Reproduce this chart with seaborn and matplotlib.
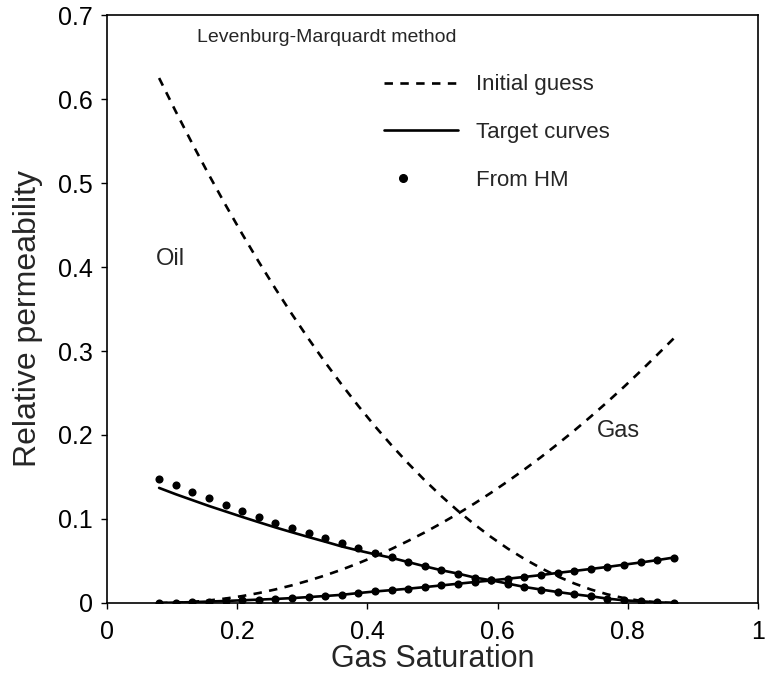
import matplotlib
matplotlib.use("Agg")
import matplotlib.pyplot as plt
from matplotlib.lines import Line2D
from matplotlib.legend_handler import HandlerLine2D
from matplotlib.ticker import FuncFormatter
import pandas as pd
import seaborn as sns

# Gas saturation grid (32 grid-block values)
gas_saturation = [0.0800, 0.1055, 0.1310, 0.1565, 0.1820, 0.2075, 0.2330, 0.2585,
                  0.2840, 0.3095, 0.3350, 0.3605, 0.3860, 0.4115, 0.4370, 0.4625,
                  0.4880, 0.5135, 0.5390, 0.5645, 0.5900, 0.6155, 0.6410, 0.6665,
                  0.6920, 0.7175, 0.7430, 0.7685, 0.7940, 0.8195, 0.8450, 0.8705]

# Initial guess curves
oil_initial = [0.6250, 0.5853, 0.5469, 0.5098, 0.4740, 0.4395, 0.4063, 0.3744,
               0.3439, 0.3146, 0.2866, 0.2600, 0.2346, 0.2105, 0.1878, 0.1663,
               0.1461, 0.1273, 0.1097, 0.0935, 0.0785, 0.0648, 0.0525, 0.0415,
               0.0317, 0.0233, 0.0161, 0.0103, 0.0058, 0.0026, 0.0006, 0.0000]
gas_initial = [0.0000, 0.0003, 0.0013, 0.0030, 0.0053, 0.0082, 0.0118, 0.0161,
               0.0210, 0.0266, 0.0328, 0.0397, 0.0473, 0.0555, 0.0643, 0.0739,
               0.0840, 0.0949, 0.1063, 0.1185, 0.1313, 0.1448, 0.1589, 0.1736,
               0.1891, 0.2051, 0.2219, 0.2393, 0.2573, 0.2760, 0.2954, 0.3150]

# Target curves
oil_target = [0.1370, 0.1295, 0.1225, 0.1155, 0.1090, 0.1025, 0.0962, 0.0900,
              0.0842, 0.0785, 0.0730, 0.0673, 0.0625, 0.0580, 0.0538, 0.0487,
              0.0437, 0.0390, 0.0350, 0.0303, 0.0270, 0.0231, 0.0191, 0.0160,
              0.0131, 0.0104, 0.0080, 0.0052, 0.0032, 0.0020, 0.0008, 0.0000]
gas_target = [0.0000, 0.0005, 0.0010, 0.0017, 0.0024, 0.0032, 0.0040, 0.0048,
              0.0058, 0.0070, 0.0083, 0.0097, 0.0118, 0.0137, 0.0153, 0.0170,
              0.0189, 0.0209, 0.0229, 0.0249, 0.0268, 0.0289, 0.0310, 0.0332,
              0.0358, 0.0381, 0.0405, 0.0429, 0.0456, 0.0482, 0.0510, 0.0541]

# Curves obtained from history matching
oil_hm = [0.1480, 0.1400, 0.1320, 0.1250, 0.1170, 0.1100, 0.1025, 0.0950,
          0.0890, 0.0830, 0.0770, 0.0710, 0.0655, 0.0596, 0.0548, 0.0489,
          0.0437, 0.0390, 0.0350, 0.0303, 0.0270, 0.0231, 0.0191, 0.0160,
          0.0131, 0.0104, 0.0080, 0.0052, 0.0032, 0.0020, 0.0008, 0.0000]
gas_hm = [0.0000, 0.0005, 0.0010, 0.0017, 0.0024, 0.0032, 0.0040, 0.0048,
          0.0058, 0.0070, 0.0083, 0.0097, 0.0118, 0.0137, 0.0153, 0.0170,
          0.0189, 0.0209, 0.0229, 0.0249, 0.0268, 0.0289, 0.0310, 0.0332,
          0.0358, 0.0381, 0.0405, 0.0429, 0.0456, 0.0482, 0.0510, 0.0541]

x_ticks = [0, 0.2, 0.4, 0.6, 0.8, 1]
y_ticks = [0, 0.1, 0.2, 0.3, 0.4, 0.5, 0.6, 0.7]

df = pd.DataFrame({
    "Sg": gas_saturation,
    "oil_initial": oil_initial, "gas_initial": gas_initial,
    "oil_target": oil_target, "gas_target": gas_target,
    "oil_hm": oil_hm, "gas_hm": gas_hm,
})

sns.set_theme(style="ticks")
plt.rcParams["font.family"] = ["Liberation Sans", "DejaVu Sans"]

fig = plt.figure(figsize=(7.65, 6.75), dpi=100)
ax = fig.add_axes([0.1399, 0.1067, 0.8510, 0.8710])

dash = (0, (3.2, 2.8))
for col in ["oil_initial", "gas_initial"]:
    sns.lineplot(data=df, x="Sg", y=col, ax=ax, color="black", lw=1.9,
                 linestyle=dash, sort=False)
for col in ["oil_target", "gas_target"]:
    sns.lineplot(data=df, x="Sg", y=col, ax=ax, color="black", lw=1.9,
                 sort=False)
for col in ["oil_hm", "gas_hm"]:
    sns.scatterplot(data=df, x="Sg", y=col, ax=ax, color="black", s=34,
                    edgecolor="black", linewidth=0, zorder=3)

ax.set_xlim(0, 1)
ax.set_ylim(0, 0.7)
ax.set_xticks(x_ticks)
ax.set_yticks(y_ticks)
fmt = FuncFormatter(lambda v, p: f"{v:g}")
ax.xaxis.set_major_formatter(fmt)
ax.yaxis.set_major_formatter(fmt)
ax.tick_params(direction="out", length=4, width=1, colors="black",
               labelsize=18)
ax.tick_params(axis="x", pad=8)
ax.tick_params(axis="y", pad=6)
for s in ax.spines.values():
    s.set_visible(True)
    s.set_color("black")
    s.set_linewidth(1.2)

ax.set_xlabel("Gas Saturation", fontsize=22)
ax.set_ylabel("Relative permeability", fontsize=23)
ax.xaxis.set_label_coords(0.5, -0.069)
ax.yaxis.set_label_coords(-0.098, 0.484)

ax.text(0.138, 0.673, "Levenburg-Marquardt method", fontsize=14,
        va="center", ha="left")
ax.text(0.075, 0.41, "Oil", fontsize=17, va="center", ha="left")
ax.text(0.752, 0.205, "Gas", fontsize=17, va="center", ha="left")


class LeftMarkerHandler(HandlerLine2D):
    """Draw a single legend marker toward the left of the handle area."""

    def get_xdata(self, legend, xdescent, ydescent, width, height, fontsize):
        xdata = [-xdescent, -xdescent + 0.5 * width]
        return xdata, [-xdescent + 0.25 * width]


handles = [
    Line2D([], [], color="black", lw=1.9, linestyle=dash),
    Line2D([], [], color="black", lw=1.9),
    Line2D([], [], color="black", lw=0, marker="o", markersize=5.5),
]
labels = ["Initial guess", "Target curves", "From HM"]
leg = ax.legend(handles, labels, loc="upper left",
                bbox_to_anchor=(0.395, 0.933), frameon=False, fontsize=16,
                handlelength=3.3, handletextpad=0.85, labelspacing=1.2,
                numpoints=1,
                handler_map={handles[2]: LeftMarkerHandler(numpoints=1)})

fig.savefig("out.png", dpi=100)
